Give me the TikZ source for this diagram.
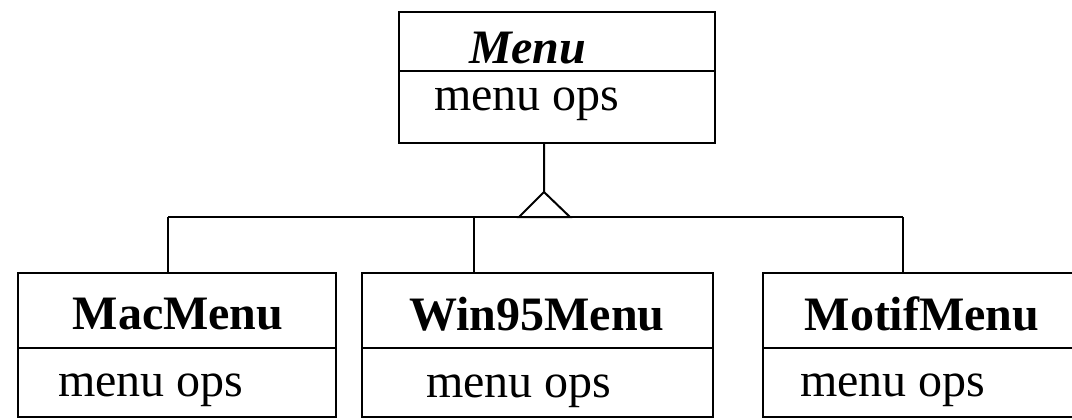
\documentclass[tikz,border=0pt]{standalone}
\usepackage{fontspec}
\setmainfont{Liberation Serif}
\tikzset{
  classbox/.style={draw, line width=1pt, inner sep=0pt},
  classname/.style={anchor=base, inner sep=0pt, font=\fontsize{24}{28}\selectfont\bfseries},
  classops/.style={anchor=base west, inner sep=0pt, font=\fontsize{24}{28}\selectfont},
}
\begin{document}
\begin{tikzpicture}[x=0.5pt, y=-0.5pt, line width=1pt]
      \clip (0, 0) rectangle (1072, 419);
      % class boxes
      \node [classbox, minimum width=158pt, minimum height=65.5pt] (menu) at (557, 77.5) {};
      \node [classbox, minimum width=159pt, minimum height=72pt] (macmenu) at (177, 345) {};
      \node [classbox, minimum width=175.5pt, minimum height=72pt] (winmenu) at (537.5, 345) {};
      \node [classbox, minimum width=170pt, minimum height=72pt] (motifmenu) at (933, 345) {};
      % dividers
      \draw (menu.west |- 0, 71) -- (menu.east |- 0, 71)
            (macmenu.west |- 0, 348) -- (macmenu.east |- 0, 348)
            (winmenu.west |- 0, 348) -- (winmenu.east |- 0, 348)
            (motifmenu.west |- 0, 348) -- (motifmenu.east |- 0, 348);
      % texts
      \node [classname, font=\fontsize{24}{28}\selectfont\bfseries\itshape, anchor=base west] (menuname) at (468, 63) {Menu};
      \node [classops] (menuops) at (433, 110) {menu ops};
      \node [classname] (macname) at (178, 329) {MacMenu};
      \node [classops] (macops) at (57, 396) {menu ops};
      \node [classname] (winname) at (537, 330) {Win95Menu};
      \node [classops] (winops) at (425, 397) {menu ops};
      \node [classname] (motifname) at (922, 330) {MotifMenu};
      \node [classops] (motifops) at (799, 396) {menu ops};
      % inheritance
      \coordinate (apex) at (544, 192);
      \coordinate (barleft) at (168, 217);
      \coordinate (barright) at (903, 217);
      \draw (menu.south -| apex) -- (apex)
            (apex) -- (519, 217) -- (570, 217) -- cycle;
      \draw (barleft) -- (barright)
            (barleft) -- (barleft |- macmenu.north)
            (474, 217) -- (474, 0 |- winmenu.north)
            (barright) -- (barright |- motifmenu.north);
\end{tikzpicture}
\end{document}
